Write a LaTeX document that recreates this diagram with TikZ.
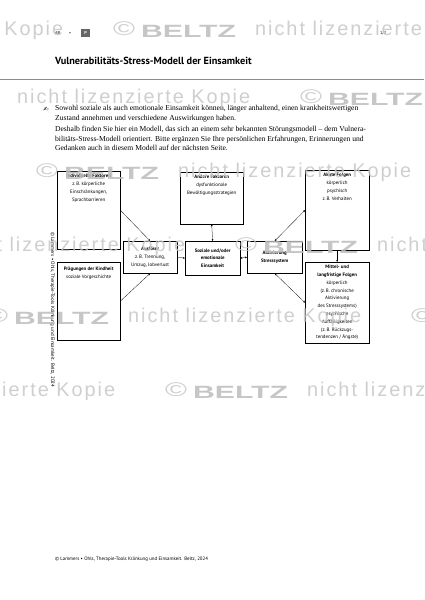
\documentclass[tikz,border=0pt]{standalone}
\usepackage{fontspec}
\setmainfont{Liberation Serif}
\newfontfamily\ptsans{PT Sans}
\newfontfamily\wmsans[LetterSpace=10]{Liberation Sans}
\newfontfamily\wmlogo{Liberation Sans}
\newfontfamily\dejavu{DejaVu Sans}
\usetikzlibrary{arrows.meta,positioning}

\newlength\px
\setlength\px{0.4953mm}

\tikzset{
  modelbox/.style={draw, line width=0.45pt, inner sep=0pt, anchor=north west,
    align=center, font=\ptsans\fontsize{6.9}{11}\selectfont},
  boxtext/.style={inner sep=0pt, align=center, font=\ptsans\fontsize{6.9}{11}\selectfont},
  conn/.style={-{Stealth[length=3pt,width=2.6pt]}, line width=0.4pt},
  dconn/.style={{Stealth[length=3pt,width=2.6pt]}-{Stealth[length=3pt,width=2.6pt]}, line width=0.4pt},
  wmtext/.style={inner sep=0pt, anchor=base west, text=black!22,
    font=\wmsans\fontsize{28}{28}\selectfont},
  wmbrand/.style={inner sep=0pt, anchor=base west, text=black!26,
    font=\wmlogo\bfseries\fontsize{25}{25}\selectfont},
}

\begin{document}
\begin{tikzpicture}[x=0.4953mm, y=-0.4953mm]
  \useasboundingbox (0,0) rectangle (424,600);
  \fill[white] (0,0) rectangle (424,600);

  % header
  \node[anchor=base west, inner sep=0pt, font=\ptsans\fontsize{6}{6}\selectfont] (ab) at (55,35) {AB};
  \node[anchor=base west, inner sep=0pt, font=\ptsans\fontsize{6}{6}\selectfont] (bullet) at (69,35) {•};
  \node[fill=black!60, text=white, inner sep=0pt, minimum width=9\px, minimum height=8\px,
    font=\ptsans\bfseries\fontsize{6}{6}\selectfont] (ptag) at (85.5,33) {P};
  \node[anchor=base west, inner sep=0pt, font=\ptsans\fontsize{6}{6}\selectfont] (page) at (380,35) {1/2};
  \node[anchor=base west, inner sep=0pt, font=\ptsans\bfseries\fontsize{14.5}{14.5}\selectfont] (title)
    at (55,65) {Vulnerabilitäts-Stress-Modell der Einsamkeit};
  \draw[black!45, line width=0.8pt] (0,79) -- (424,79);

  % intro text (base = last line)
  \node[inner sep=0pt, font=\dejavu\fontsize{9}{9}\selectfont] (hand) at (46,109) {✍};
  \node[anchor=base west, inner sep=0pt, align=left, font=\fontsize{10.7}{13.9}\selectfont] (intro) at (55,120.5)
    {Sowohl soziale als auch emotionale Einsamkeit können, länger anhaltend, einen krankheitswertigen\\
     Zustand annehmen und verschiedene Auswirkungen haben.};
  \node[anchor=base west, inner sep=0pt, align=left, font=\fontsize{10.7}{13.6}\selectfont] (detail) at (55,151)
    {Deshalb finden Sie hier ein Modell, das sich an einem sehr bekannten Störungsmodell -- dem Vulnera-\\
     bilitäts-Stress-Modell orientiert. Bitte ergänzen Sie Ihre persönlichen Erfahrungen, Erinnerungen und\\
     Gedanken auch in diesem Modell auf der nächsten Seite.};

  % boxes of the model
  \node[modelbox, minimum width=63\px, minimum height=78\px] (ind) at (57,171) {};
  \node[boxtext, below=3\px of ind.north] (ind-txt)
    {\textbf{Individuelle Faktoren}\\ z.\,B. körperliche\\ Einschränkungen,\\ Sprachbarrieren};
  \node[modelbox, minimum width=63\px, minimum height=78\px] (prae) at (57,262) {};
  \node[boxtext, below=5\px of prae.north] (prae-txt)
    {\textbf{Prägungen der Kindheit}\\ soziale Vorgeschichte};
  \node[modelbox, minimum width=54\px, minimum height=32\px] (ausl) at (123,241)
    {\textbf{Auslöser}\\ z.\,B. Trennung,\\ Umzug, Jobverlust};
  \node[modelbox, minimum width=63\px, minimum height=52\px] (andere) at (180,172) {};
  \node[boxtext, below=3\px of andere.north] (andere-txt)
    {\textbf{Andere Faktoren}\\ dysfunktionale\\ Bewältigungsstrategien};
  \node[modelbox, minimum width=55\px, minimum height=34\px] (eins) at (185,241)
    {\textbf{Soziale und/oder}\\ \textbf{emotionale}\\ \textbf{Einsamkeit}};
  \node[modelbox, minimum width=55\px, minimum height=32\px] (stress) at (247,241)
    {\textbf{Aktivierung}\\ \textbf{Stresssystem}};
  \node[modelbox, minimum width=64\px, minimum height=80\px] (akut) at (305,170) {};
  \node[boxtext, below=3\px of akut.north] (akut-txt)
    {\textbf{Akute Folgen}\\ körperlich\\ psychisch\\ z.\,B. Verhalten};
  \node[modelbox, minimum width=64\px, minimum height=81\px] (mittel) at (305,262)
    {\textbf{Mittel- und}\\ \textbf{langfristige Folgen}\\ körperlich\\ (z.\,B. chronische\\ Aktivierung\\
     des Stresssystems)\\ psychische\\ Auffälligkeiten\\ (z.\,B. Rückzugs-\\ tendenzen / Ängste)};

  % connectors
  \draw[conn] (ind.east) -- (ausl.north);
  \draw[conn] (prae.east) -- (ausl.south);
  \draw[conn] (ausl.east) -- (eins.west);
  \draw[dconn] (andere.south) -- (eins.north);
  \draw[dconn] (eins.east) -- (stress.west);
  \draw[dconn] (stress.north) -- (akut.west);
  \draw[dconn] (stress.south) -- (mittel.west);
  \draw[conn] (akut.south) -- (mittel.north);

  % footer and side note
  \node[anchor=base west, inner sep=0pt, font=\ptsans\fontsize{6.9}{6.9}\selectfont] (foot) at (55,560)
    {© Lammers • Ohls, Therapie-Tools Kränkung und Einsamkeit. Beltz, 2024};
  \node[anchor=base west, inner sep=0pt, rotate=-90, font=\ptsans\fontsize{7}{7}\selectfont] (side) at (51,232)
    {© Lammers • Ohls, Therapie-Tools Kränkung und Einsamkeit. Beltz, 2024};

  % watermark rows
  \begin{scope}[opacity=0.85]
    \foreach \wy/\wx in {36/255,104/17,178/178,251/377,322/128,396/307} {
      \foreach \k in {-1,0,1} {
        \node[wmtext] (wmt-\wy-\k) at ({\wx+425*\k},\wy) {nicht lizenzierte Kopie};
        \node[wmtext] (wmc-\wy-\k) at ({\wx+425*\k+283},\wy) {\scalebox{1.5}[1]{©}};
        \node[wmbrand] (wml-\wy-\k) at ({\wx+425*\k+311},{\wy+2}) {\scalebox{1.7}[1]{BELTZ}};
      }
    }
  \end{scope}
\end{tikzpicture}
\end{document}
